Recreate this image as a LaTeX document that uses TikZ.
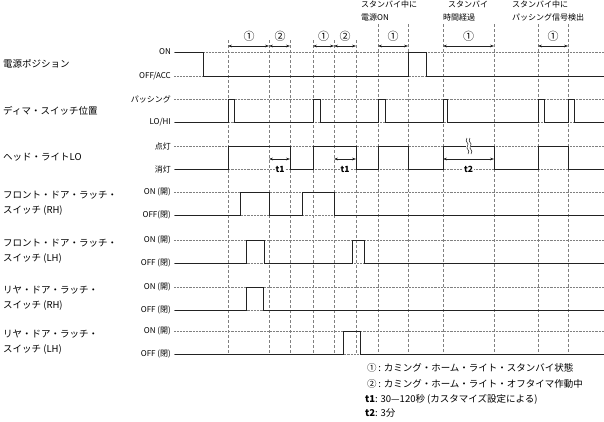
\documentclass[tikz,border=0pt]{standalone}
\usepackage{fontspec}
\setmainfont{Noto Sans CJK JP}
\usepackage{tikz}
\usetikzlibrary{arrows.meta}
\definecolor{sigc}{HTML}{222222}
\definecolor{gridc}{HTML}{808080}
\tikzset{
  sig/.style={line width=1pt,sigc},
  refl/.style={gridc,densely dotted,line width=0.45pt},
  vline/.style={gridc,dash pattern=on 3pt off 2pt,line width=0.5pt},
  span/.style={{Stealth[length=4pt,width=2.8pt]}-{Stealth[length=4pt,width=2.8pt]},line width=0.5pt,sigc},
  lvl/.style={anchor=east,font=\fontsize{8}{8}\selectfont,inner sep=1pt},
  sname/.style={anchor=west,font=\fontsize{9.5}{15}\selectfont,align=left,inner sep=0pt},
  note/.style={anchor=north west,font=\fontsize{8}{13}\selectfont,align=left,inner sep=0pt},
  circ/.style={font=\fontsize{11}{11}\selectfont,inner sep=0pt},
  tlab/.style={font=\bfseries\fontsize{8.5}{9}\selectfont,fill=white,inner sep=1pt},
  lgd/.style={anchor=west,font=\fontsize{9.5}{10}\selectfont,inner sep=0pt}
}
% one signal row: low level, high level, list of pulses start/end
\newcommand{\sigrow}[3]{\draw[sig] (175,#1) foreach \xa/\xb in {#3} { -| (\xa,#2) -| (\xb,#1) } -- (604,#1);}

\begin{document}
\begin{tikzpicture}[x=1pt,y=-1pt]
\useasboundingbox (0,0) rectangle (604,421);
% time marks
\foreach \x in {228,269,290,313,334,356} \draw[vline] (\x,40) -- (\x,354);
\foreach \x in {378,408,443,494,538,568} \draw[vline] (\x,24) -- (\x,354);
% level lines
\foreach \y in {52,76,99,122,146,169,192,215,240,263,287,310,331,354} \draw[refl] (174,\y) -- (604,\y);

% signal names
\node[sname] (n1) at (3,64) {電源ポジション};
\node[sname] (n2) at (3,110.5) {ディマ・スイッチ位置};
\node[sname] (n3) at (3,157.5) {ヘッド・ライトLO};
\node[sname] (n4) at (3,203.5) {フロント・ドア・ラッチ・\\スイッチ (RH)};
\node[sname] (n5) at (3,251.5) {フロント・ドア・ラッチ・\\スイッチ (LH)};
\node[sname] (n6) at (3,298.5) {リヤ・ドア・ラッチ・\\スイッチ (RH)};
\node[sname] (n7) at (3,342.5) {リヤ・ドア・ラッチ・\\スイッチ (LH)};

% levels
\node[lvl] (l1h) at (172,52) {ON};
\node[lvl] (l1l) at (172,76) {OFF/ACC};
\node[lvl] (l2h) at (172,99) {パッシング};
\node[lvl] (l2l) at (172,122) {LO/HI};
\node[lvl] (l3h) at (172,146) {点灯};
\node[lvl] (l3l) at (172,169) {消灯};
\node[lvl] (l4h) at (172,192) {ON (開)};
\node[lvl] (l4l) at (172,215) {OFF(閉)};
\node[lvl] (l5h) at (172,240) {ON (開)};
\node[lvl] (l5l) at (172,263) {OFF (閉)};
\node[lvl] (l6h) at (172,287) {ON (開)};
\node[lvl] (l6l) at (172,310) {OFF (閉)};
\node[lvl] (l7h) at (172,331) {ON (開)};
\node[lvl] (l7l) at (172,354) {OFF (閉)};

% signals
\draw[sig] (175,52) -| (203,76) -| (408,52) -| (426,76) -- (604,76);
\sigrow{122}{99}{228/234,313/320,378/385,443/447,538/544,568/574}
\sigrow{169}{146}{228/290,313/356,378/408,443/494,538/568}
\sigrow{215}{192}{240/269,302/334}
\sigrow{263}{240}{246/264,352/364}
\sigrow{310}{287}{246/263}
\sigrow{354}{331}{343/360}

% standby / off timer spans
\draw[span] (228,46) -- (269,46);
\draw[span] (269,46) -- (290,46);
\draw[span] (313,46) -- (334,46);
\draw[span] (334,46) -- (356,46);
\draw[span] (378,46) -- (408,46);
\draw[span] (443,46) -- (494,46);
\draw[span] (538,46) -- (568,46);
\node[circ] (c1) at (249,36) {①};
\node[circ] (c2) at (280,36) {②};
\node[circ] (c3) at (323.5,36) {①};
\node[circ] (c4) at (345,36) {②};
\node[circ] (c5) at (393,36) {①};
\node[circ] (c6) at (468.5,36) {①};
\node[circ] (c7) at (553,36) {①};
\node[note] (a1) at (361,0.5) {スタンバイ中に\\電源ON};
\node[note] (a2) at (443,0.5) {\hspace{5pt}スタンバイ\\時間経過};
\node[note] (a3) at (512,0.5) {スタンバイ中に\\パッシング信号検出};

% t1 / t2
\draw[span] (269,159) -- (290,159);
\draw[span] (334,159) -- (356,159);
\draw[span] (443,159) -- (494,159);
\node[tlab] (t1a) at (280,169) {t1};
\node[tlab] (t1b) at (345,169) {t1};
\node[tlab] (t2a) at (468.5,169) {t2};
\fill[white] (466,143) rectangle (471,149);
\draw[sigc,line width=0.5pt] (467,138) .. controls (464,142) and (470,143) .. (467.5,146) .. controls (465,149) and (471,150) .. (468,154);
\draw[sigc,line width=0.5pt] (470,138) .. controls (467,142) and (473,143) .. (470.5,146) .. controls (468,149) and (474,150) .. (471,154);

% legend
\node[lgd] (g1) at (367,368) {①\,: カミング・ホーム・ライト・スタンバイ状態};
\node[lgd] (g2) at (367,384) {②\,: カミング・ホーム・ライト・オフタイマ作動中};
\node[lgd] (g3) at (365,399) {\textbf{t1}: 30—120秒 (カスタマイズ設定による)};
\node[lgd] (g4) at (365,413) {\textbf{t2}: 3分};
\end{tikzpicture}
\end{document}
